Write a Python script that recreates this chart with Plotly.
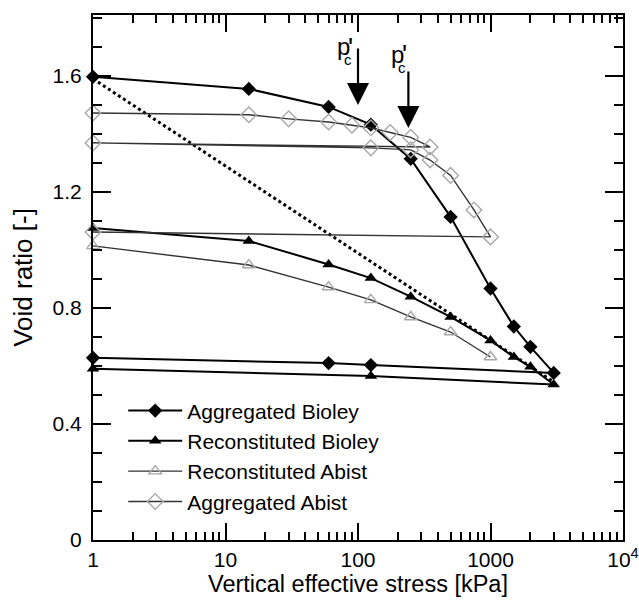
import math
import plotly.graph_objects as go

# ---------------- data ----------------
agg_bioley_x = [1, 15, 60, 125, 250, 500, 1000, 1500, 2000, 3000, 125, 60, 1]
agg_bioley_y = [1.597, 1.555, 1.493, 1.432, 1.314, 1.114, 0.867, 0.736, 0.666, 0.576, 0.603, 0.610, 0.628]

rec_bioley_x = [1, 15, 60, 125, 250, 500, 1000, 1500, 2000, 3000, 125, 1]
rec_bioley_y = [1.076, 1.031, 0.950, 0.903, 0.839, 0.769, 0.688, 0.631, 0.597, 0.536, 0.565, 0.590]

rec_abist_x = [1, 15, 60, 125, 250, 500, 1000]
rec_abist_y = [1.014, 0.948, 0.872, 0.828, 0.769, 0.717, 0.631]

agg_abist_x = [1, 15, 30, 60, 90, 125, 175, 250, 350, 1, 125, 250, 350, 500, 750, 1000, 1]
agg_abist_y = [1.472, 1.466, 1.452, 1.441, 1.430, 1.421, 1.405, 1.388, 1.355,
               1.369, 1.352, 1.345, 1.310, 1.257, 1.138, 1.045, 1.062]

ref_line_x = [1, 3000]
ref_line_y = [1.59, 0.545]

pc_x = [100, 240]
pc_tip_y = [1.50, 1.42]
pc_tail_y = [1.70, 1.62]
pc_label_y = [1.70, 1.675]

x_tickvals = [1, 10, 100, 1000, 10000]
x_ticktext = ["1", "10", "100", "1000", "10<sup>4</sup>"]

# ---------------- figure ----------------
FONT = "Liberation Sans, Arial, sans-serif"
fig = go.Figure()

fig.add_trace(go.Scatter(
    x=ref_line_x, y=ref_line_y, mode="lines", showlegend=False,
    line=dict(color="black", width=3, dash="dot"), cliponaxis=False))

fig.add_trace(go.Scatter(
    x=agg_bioley_x, y=agg_bioley_y, mode="lines+markers", name="Aggregated Bioley",
    line=dict(color="black", width=2),
    marker=dict(symbol="diamond", size=11, color="black"), cliponaxis=False))

fig.add_trace(go.Scatter(
    x=rec_bioley_x, y=rec_bioley_y, mode="lines+markers", name="Reconstituted Bioley",
    line=dict(color="black", width=2),
    marker=dict(symbol="triangle-up", size=11, color="black"), cliponaxis=False))

fig.add_trace(go.Scatter(
    x=rec_abist_x, y=rec_abist_y, mode="lines+markers", name="Reconstituted Abist",
    line=dict(color="#333333", width=1.4),
    marker=dict(symbol="triangle-up-open", size=11, color="#a8a8a8", line=dict(width=1.4)),
    cliponaxis=False))

fig.add_trace(go.Scatter(
    x=agg_abist_x, y=agg_abist_y, mode="lines+markers", name="Aggregated Abist",
    line=dict(color="#333333", width=1.4),
    marker=dict(symbol="diamond-open", size=12, color="#a8a8a8", line=dict(width=1.4)),
    cliponaxis=False))

# p'c arrows and labels
for xv, ty, ay in zip(pc_x, pc_tip_y, pc_tail_y):
    lx = math.log10(xv)
    fig.add_annotation(x=lx, y=ty, ax=lx, ay=ay, xref="x", yref="y", axref="x", ayref="y",
                       text="", showarrow=True, arrowhead=2, arrowsize=2, arrowwidth=2.2,
                       arrowcolor="black", standoff=0, startstandoff=0)

label_dx = [-15, -11]
for xv, ly, dx in zip(pc_x, pc_label_y, label_dx):
    lx = math.log10(xv)
    fig.add_annotation(x=lx, y=ly, xref="x", yref="y", text="p", showarrow=False,
                       xshift=dx, font=dict(family=FONT, size=24, color="black"))
    fig.add_annotation(x=lx, y=ly, xref="x", yref="y", text="c", showarrow=False,
                       xshift=dx + 5, yshift=-13, font=dict(family=FONT, size=15, color="black"))
    fig.add_annotation(x=lx, y=ly, xref="x", yref="y", text="'", showarrow=False,
                       xshift=dx + 7, yshift=-1, font=dict(family=FONT, size=27, color="black"))

x_minor = [m * 10 ** d for d in range(0, 4) for m in range(2, 10)]

fig.update_layout(
    width=639, height=601,
    margin=dict(l=93, r=16, t=15, b=61),
    paper_bgcolor="white", plot_bgcolor="white",
    font=dict(family=FONT, size=21, color="black"),
    showlegend=True,
    legend=dict(x=0.057, y=0.285, xanchor="left", yanchor="top",
                bgcolor="rgba(0,0,0,0)", font=dict(family=FONT, size=21, color="black"),
                itemwidth=54, tracegroupgap=0),
    xaxis=dict(type="log", range=[0, 4], showline=True, linecolor="black", linewidth=2,
               mirror="ticks", ticks="inside", ticklen=17, tickwidth=1.5, tickcolor="black",
               tickmode="array", tickvals=x_tickvals, ticktext=x_ticktext,
               showgrid=False, zeroline=False, automargin=False,
               minor=dict(tickmode="array", tickvals=x_minor, ticks="inside", ticklen=8,
                          tickwidth=1.5, tickcolor="black", showgrid=False),
               title=dict(text="Vertical effective stress [kPa]", font=dict(size=23.5), standoff=4),
               tickfont=dict(size=21)),
    yaxis=dict(range=[0, 1.81], showline=True, linecolor="black", linewidth=2,
               mirror="ticks", ticks="inside", ticklen=18, tickwidth=1.5, tickcolor="black",
               tick0=0, dtick=0.4, showgrid=False, zeroline=False, automargin=False,
               ticklabelstandoff=5,
               minor=dict(dtick=0.1, ticks="inside", ticklen=9, tickwidth=1.5,
                          tickcolor="black", showgrid=False),
               title=dict(text="Void ratio [-]", font=dict(size=26), standoff=12),
               tickfont=dict(size=21)),
)

fig.write_html("out.html")
